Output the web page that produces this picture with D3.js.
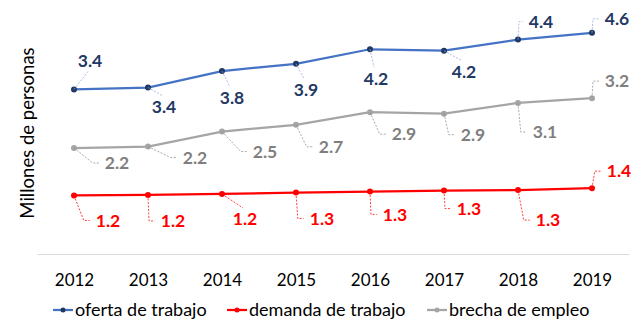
<!DOCTYPE html>
<html>
<head>
<meta charset="utf-8">
<script src="https://cdn.jsdelivr.net/npm/d3@7"></script>
<style>
  body { margin: 0; background: #fff; }
  svg { display: block; font-family: Lato, "Open Sans", sans-serif; }
</style>
</head>
<body>
<svg id="chart" width="640" height="331"></svg>
<script>
var years = ["2012", "2013", "2014", "2015", "2016", "2017", "2018", "2019"];
var oferta = [3.40, 3.44, 3.78, 3.93, 4.23, 4.20, 4.43, 4.57];
var demanda = [1.21, 1.22, 1.24, 1.27, 1.29, 1.31, 1.32, 1.36];
var brecha = [2.19, 2.22, 2.53, 2.67, 2.93, 2.90, 3.12, 3.22];
var seriesNames = ["oferta de trabajo", "demanda de trabajo", "brecha de empleo"];

// where each data label sits, relative to its point (px)
var labelOffsets = {
  oferta:  [[16,-29],[16,19],[10,27],[10,26],[6,29],[20,21],[23,-18],[25,-14]],
  demanda: [[34,25],[25,26],[23,25],[26,26],[25,23],[25,18],[30,30],[27,-17]],
  brecha:  [[43,15],[47,11],[43,20],[35,22],[34,22],[29,21],[27,29],[25,-17]]
};

var series = [
  { key: "oferta", name: seriesNames[0], values: oferta, line: "#4472C4", dot: "#1F3864", text: "#1F3864", lead: "#8FAADC" },
  { key: "demanda", name: seriesNames[1], values: demanda, line: "#FF0000", dot: "#FF0000", text: "#FF0000", lead: "#FF0000" },
  { key: "brecha", name: seriesNames[2], values: brecha, line: "#A5A5A5", dot: "#A5A5A5", text: "#7F7F7F", lead: "#8C8C8C" }
];

var svg = d3.select("#chart");

var x = d3.scalePoint().domain(years).range([37, 629]).padding(0.5);
var y = d3.scaleLinear().domain([0, 5]).range([254, 12]);

// x axis
var xAxis = svg.append("g")
  .attr("transform", "translate(0," + y(0) + ")")
  .call(d3.axisBottom(x).tickSize(0).tickPadding(20));
xAxis.select(".domain").attr("stroke", "#D9D9D9").attr("stroke-width", 1);
xAxis.selectAll("text")
  .attr("font-family", "Lato, sans-serif")
  .attr("font-size", 17)
  .attr("fill", "#000");

// y title
svg.append("text")
  .attr("transform", "translate(28,133) rotate(-90)")
  .attr("text-anchor", "middle")
  .attr("dy", "0.35em")
  .attr("font-size", 18.5)
  .attr("fill", "#000")
  .text("Millones de personas");

var line = d3.line()
  .x(function(d, i) { return x(years[i]); })
  .y(function(d) { return y(d); });

series.forEach(function(s) {
  svg.append("path")
    .datum(s.values)
    .attr("fill", "none")
    .attr("stroke", s.line)
    .attr("stroke-width", 2.25)
    .attr("d", line);

  svg.selectAll(".dot-" + s.key)
    .data(s.values)
    .enter().append("circle")
    .attr("cx", function(d, i) { return x(years[i]); })
    .attr("cy", function(d) { return y(d); })
    .attr("r", 3)
    .attr("fill", s.dot);

  s.values.forEach(function(v, i) {
    var px = x(years[i]), py = y(v);
    var off = labelOffsets[s.key][i];
    var cx = px + off[0], cy = py + off[1];

    var t = svg.append("text")
      .attr("x", cx)
      .attr("y", cy)
      .attr("dy", "0.36em")
      .attr("text-anchor", "middle")
      .attr("font-size", 17.5)
      .attr("font-weight", "bold")
      .attr("fill", s.text)
      .text(d3.format(".1f")(v));

    var bb = t.node().getBBox();
    var hw = bb.width / 2 + 6, hh = 6 + 5;
    // pick the nearest anchor: left side (with stub) or top / bottom centre
    var left = [cx - hw, cy];
    var vert = off[1] > 0 ? [cx - 2, cy - hh] : [cx - 2, cy + hh];
    var dl = Math.hypot(left[0] - px, left[1] - py);
    var dv = Math.hypot(vert[0] - px, vert[1] - py);
    var pts;
    if (dl <= dv) {
      var ex = Math.max(px + 1, left[0] - 6);
      pts = [[px, py], [ex, cy], left];
    } else {
      pts = [[px, py], vert];
    }
    svg.append("path")
      .attr("d", d3.line()(pts))
      .attr("fill", "none")
      .attr("stroke", s.lead)
      .attr("stroke-width", 0.75)
      .attr("stroke-dasharray", "2,1.5");
  });
});

// legend
var legendX = [53, 227, 427];
var legend = svg.selectAll(".legend")
  .data(series)
  .enter().append("g")
  .attr("transform", function(d, i) { return "translate(" + legendX[i] + ",310)"; });
legend.append("line")
  .attr("x1", 0).attr("x2", 20)
  .attr("stroke", function(d) { return d.line; })
  .attr("stroke-width", 2.25);
legend.append("circle")
  .attr("cx", 10).attr("r", 2.5)
  .attr("fill", function(d) { return d.dot; });
legend.append("text")
  .attr("x", 22)
  .attr("dy", "0.32em")
  .attr("font-size", 18)
  .attr("fill", "#000")
  .text(function(d) { return d.name; });
</script>
</body>
</html>
